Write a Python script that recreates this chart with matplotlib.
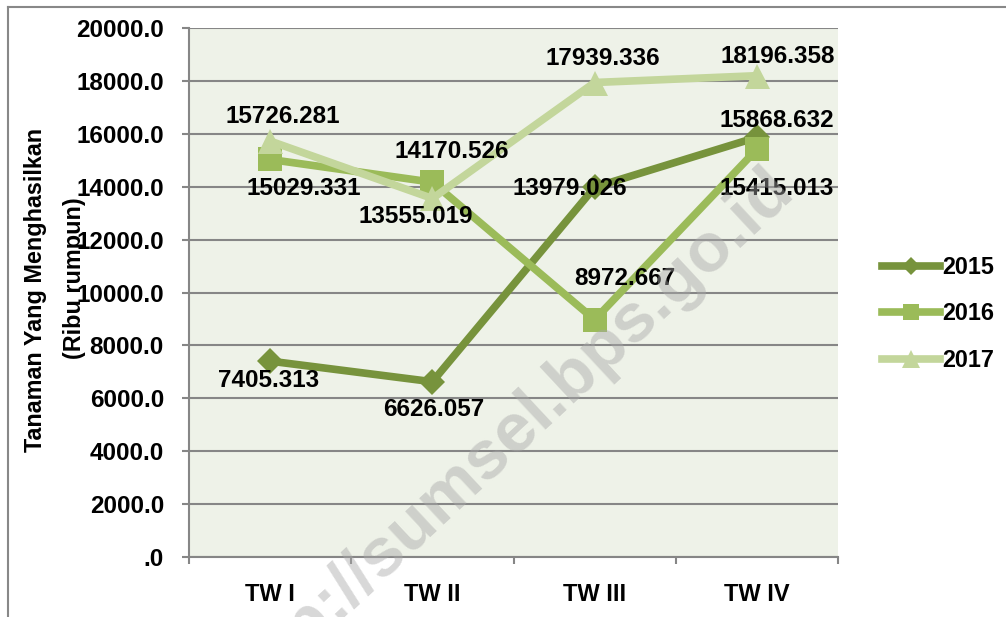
import numpy as np
import matplotlib
matplotlib.use("Agg")
import matplotlib.pyplot as plt
from matplotlib.lines import Line2D

QUARTERS = ["TW I", "TW II", "TW III", "TW IV"]
YEARS = ["2015", "2016", "2017"]

values_2015 = [7405.313, 6626.057, 13979.026, 15868.632]
values_2016 = [15029.331, 14170.526, 8972.667, 15415.013]
values_2017 = [15726.281, 13555.019, 17939.336, 18196.358]

Y_TICKS = [0, 2000, 4000, 6000, 8000, 10000, 12000, 14000, 16000, 18000, 20000]
Y_TICK_LABELS = [".0", "2000.0", "4000.0", "6000.0", "8000.0", "10000.0",
                 "12000.0", "14000.0", "16000.0", "18000.0", "20000.0"]

COLORS = ["#77933C", "#9BBB59", "#C3D69B"]
MARKERS = ["D", "s", "^"]
MSIZES = [13, 17, 18]

# label offsets in points (dx, dy) per series and quarter
OFFSETS = [
    [(-1, -14), (1, -20), (-18, -1), (14, 12)],
    [(24, -21), (14, 22), (22, 30), (14, -28)],
    [(9, 18), (-12, -13), (6, 17), (15, 14)],
]

FONT = ["Liberation Sans", "DejaVu Sans"]
plt.rcParams["font.family"] = FONT
plt.rcParams["font.weight"] = "bold"

fig = plt.figure(figsize=(10.06, 6.17), dpi=100)
ax = fig.add_axes([189 / 1006, 60 / 617, 649 / 1006, 529 / 617])
ax.set_facecolor("#EEF2E8")

x = np.arange(len(QUARTERS))
series = [values_2015, values_2016, values_2017]

for vals, col, mk, ms, offs in zip(series, COLORS, MARKERS, MSIZES, OFFSETS):
    ax.plot(x, vals, color=col, lw=5.5, marker=mk, markersize=ms,
            markeredgewidth=0, solid_joinstyle="miter", zorder=3)
    for xi, v, off in zip(x, vals, offs):
        ax.annotate(f"{v:.3f}", (xi, v), xytext=off, textcoords="offset points",
                    ha="center", va="center", fontsize=17.5, fontweight="bold",
                    zorder=5)

ax.set_xlim(-0.5, len(QUARTERS) - 0.5)
ax.set_ylim(0, 20000)
ax.set_yticks(Y_TICKS)
ax.set_yticklabels(Y_TICK_LABELS, fontsize=17.5, fontweight="bold")
ax.grid(axis="y", color="#868686", lw=1.5, zorder=1)
ax.set_axisbelow(True)

ax.set_xticks(np.arange(len(QUARTERS) + 1) - 0.5)
ax.set_xticklabels([])
ax.set_xticks(x, minor=True)
ax.set_xticklabels(QUARTERS, minor=True, fontsize=17, fontweight="bold")
ax.tick_params(axis="x", which="minor", length=0, pad=19)
ax.tick_params(axis="x", which="major", length=5, width=1.5, color="#868686")
ax.tick_params(axis="y", length=5, width=1.5, color="#868686", pad=13)

for s in ["top", "right"]:
    ax.spines[s].set_visible(False)
for s in ["left", "bottom"]:
    ax.spines[s].set_color("#868686")
    ax.spines[s].set_linewidth(1.5)

fig.text(36 / 1006, 1 - 290 / 617, "Tanaman Yang Menghasilkan", rotation=90,
         ha="center", va="center", fontsize=16.8, fontweight="bold")
fig.text(74 / 1006, 1 - 278 / 617, "(Ribu rumpun)", rotation=90,
         ha="center", va="center", fontsize=16.8, fontweight="bold")

handles = [Line2D([], [], color=c, lw=5.5, marker=m, markersize=ms * 0.7,
                  markeredgewidth=0) for c, m, ms in zip(COLORS, MARKERS, MSIZES)]
fig.legend(handles, YEARS, loc="center left", bbox_to_anchor=(870 / 1006, 1 - 314 / 617),
           frameon=False, handlelength=2.5, handletextpad=0.1,
           labelspacing=1.0, borderpad=0, prop={"family": FONT, "weight": "bold", "size": 16.8})

# watermark
fig.text(505 / 1006, 1 - 438 / 617, "http://sumsel.bps.go.id", rotation=43,
         ha="center", va="center", fontsize=50, fontweight="bold",
         color="#a8a8a8", alpha=0.45, zorder=10)

# outer frame (top and left edges visible)
fig.add_artist(Line2D([8 / 1006, 1], [1 - 7 / 617, 1 - 7 / 617],
                      transform=fig.transFigure, color="#888888", lw=1.5))
fig.add_artist(Line2D([8 / 1006, 8 / 1006], [0, 1 - 7 / 617],
                      transform=fig.transFigure, color="#888888", lw=1.5))

fig.savefig("out.png", dpi=100)
